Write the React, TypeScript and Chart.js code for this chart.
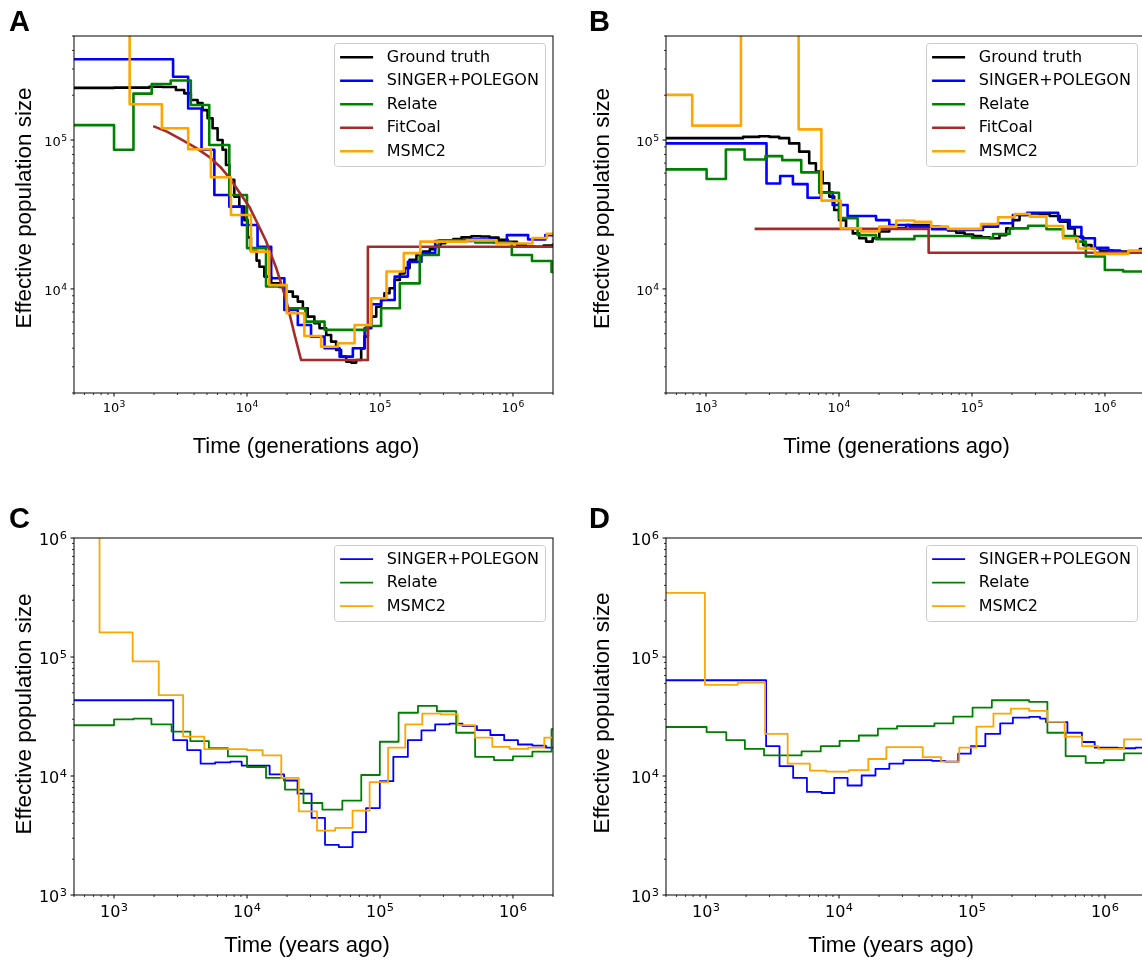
import React, { useEffect, useRef } from 'react';
import { Chart, registerables } from 'chart.js';

Chart.register(...registerables);

type Pt = [number, number];

// ---------- tick labels (base, exponent) ----------
const X_MAJOR_TICKS = [1e3, 1e4, 1e5, 1e6];
const X_TICK_LABELS: [string, string][] = [['10', '3'], ['10', '4'], ['10', '5'], ['10', '6']];
const Y_MAJOR_AB = [1e4, 1e5];
const Y_LABELS_AB: [string, string][] = [['10', '4'], ['10', '5']];
const Y_MAJOR_CD = [1e3, 1e4, 1e5, 1e6];
const Y_LABELS_CD: [string, string][] = [['10', '3'], ['10', '4'], ['10', '5'], ['10', '6']];

const LABELS_AB = ['Ground truth', 'SINGER+POLEGON', 'Relate', 'FitCoal', 'MSMC2'];
const LABELS_CD = ['SINGER+POLEGON', 'Relate', 'MSMC2'];
const Y_TITLE = 'Effective population size';
const X_TITLE_GEN = 'Time (generations ago)';
const X_TITLE_YEARS = 'Time (years ago)';

// ---------- Panel A (generations) ----------
const A_TRUTH: Pt[] = [
  [500, 2.24e5], [1000, 2.25e5], [1840, 2.28e5], [2300, 2.27e5], [2920, 2.17e5], [3370, 2.06e5],
  [3780, 1.86e5], [4250, 1.77e5], [4630, 1.59e5], [5050, 1.4e5], [5510, 1.2e5], [6010, 1.0e5],
  [6550, 8.6e4], [6950, 6.8e4], [7360, 5.4e4], [8020, 4.17e4], [8750, 3.57e4], [9550, 2.9e4],
  [1.01e4, 2.22e4], [1.07e4, 1.8e4], [1.18e4, 1.55e4], [1.24e4, 1.41e4], [1.35e4, 1.21e4],
  [1.52e4, 1.09e4], [1.75e4, 1.03e4], [1.97e4, 9.6e3], [2.21e4, 8.88e3], [2.41e4, 8.22e3],
  [2.63e4, 7.41e3], [2.86e4, 6.52e3], [3.21e4, 5.88e3], [3.51e4, 5.44e3], [3.94e4, 4.91e3],
  [4.29e4, 4.43e3], [4.68e4, 3.89e3], [5.1e4, 3.51e3], [5.57e4, 3.25e3], [6.07e4, 3.2e3],
  [6.62e4, 3.33e3], [7.22e4, 3.99e3], [7.65e4, 4.78e3], [8.11e4, 5.73e3], [8.6e4, 6.52e3],
  [9.37e4, 7.6e3], [1.02e5, 8.43e3], [1.08e5, 9.35e3], [1.18e5, 1.01e4], [1.29e5, 1.15e4],
  [1.41e5, 1.27e4], [1.53e5, 1.38e4], [1.67e5, 1.57e4], [1.88e5, 1.69e4], [2.11e5, 1.78e4],
  [2.37e5, 1.85e4], [2.6e5, 1.95e4], [2.85e5, 2.03e4], [3.1e5, 2.1e4], [3.56e5, 2.16e4],
  [4.1e5, 2.22e4], [4.87e5, 2.26e4], [5.7e5, 2.25e4], [6.68e5, 2.21e4], [7.8e5, 2.14e4],
  [9.14e5, 2.07e4], [1.07e6, 1.98e4], [1.25e6, 1.93e4], [1.45e6, 1.92e4], [1.7e6, 1.96e4],
  [2e6, 2.02e4],
];
const A_SINGER: Pt[] = [
  [500, 3.49e5], [2780, 2.66e5], [3610, 1.63e5], [4550, 8.6e4], [5680, 4.28e4], [7360, 3.57e4],
  [9160, 2.69e4], [1.2e4, 1.92e4], [1.52e4, 1.18e4], [1.91e4, 7.23e3], [2.41e4, 5.73e3],
  [3.03e4, 4.78e3], [3.83e4, 4.0e3], [4.97e4, 3.51e3], [6.25e4, 4.0e3], [7.66e4, 5.44e3],
  [8.6e4, 7.9e3], [1.02e5, 8.43e3], [1.29e5, 1.21e4], [1.62e5, 1.52e4], [2.05e5, 1.74e4],
  [2.6e5, 2.1e4], [5.0e5, 2.15e4], [7.2e5, 2.05e4], [9.0e5, 2.3e4], [1.3e6, 2.15e4],
  [1.75e6, 2.3e4], [2e6, 2.3e4],
];
const A_RELATE: Pt[] = [
  [500, 1.26e5], [1000, 8.6e4], [1400, 2.05e5], [1920, 2.38e5], [2670, 2.51e5], [3780, 1.72e5],
  [5200, 9.27e4], [7360, 4.28e4], [1.0e4, 1.88e4], [1.39e4, 1.04e4], [1.97e4, 7.41e3],
  [2.75e4, 6.03e3], [3.83e4, 5.31e3], [7.9e4, 5.64e3], [1.02e5, 7.41e3], [1.41e5, 1.09e4],
  [1.99e5, 1.69e4], [2.77e5, 2.12e4], [5.2e5, 2.05e4], [9.8e5, 1.69e4], [1.39e6, 1.54e4],
  [1.95e6, 1.3e4], [2e6, 1.3e4],
];
const A_FITCOAL: Pt[] = [
  [1970, 1.24e5], [2500, 1.14e5], [3270, 1.0e5], [4200, 8.8e4], [5200, 7.7e4], [6300, 6.6e4],
  [7360, 5.6e4], [8700, 4.5e4], [1.04e4, 3.57e4], [1.2e4, 2.75e4], [1.39e4, 2.1e4],
  [1.51e4, 1.72e4], [1.65e4, 1.4e4], [1.8e4, 1.1e4], [1.97e4, 8.4e3], [2.27e4, 5.0e3],
  [2.55e4, 3.33e3], [8.11e4, 3.33e3], [8.11e4, 1.92e4], [2e6, 1.92e4],
];
const A_MSMC: Pt[] = [
  [500, 1.5e6], [1310, 1.74e5], [2290, 1.2e5], [3610, 8.67e4], [5350, 5.62e4], [7570, 3.14e4],
  [1.07e4, 1.78e4], [1.47e4, 1.06e4], [1.99e4, 6.87e3], [2.7e4, 4.83e3], [3.61e4, 4.09e3],
  [4.82e4, 4.32e3], [6.44e4, 5.73e3], [8.6e4, 8.65e3], [1.12e5, 1.31e4], [1.51e5, 1.74e4],
  [2.01e5, 2.08e4], [4.5e5, 2.12e4], [7.5e5, 2.02e4], [1.4e6, 2.2e4], [1.8e6, 2.35e4],
  [2e6, 2.35e4],
];

// ---------- Panel B (generations) ----------
const B_TRUTH: Pt[] = [
  [500, 1.03e5], [1430, 1.03e5], [1900, 1.05e5], [2510, 1.06e5], [3000, 1.05e5], [3550, 1.03e5],
  [4220, 9.5e4], [5020, 8.36e4], [5970, 6.98e4], [6700, 6.14e4], [7530, 5.13e4], [8450, 4.17e4],
  [9200, 3.39e4], [1.0e4, 2.9e4], [1.13e4, 2.55e4], [1.27e4, 2.36e4], [1.42e4, 2.19e4],
  [1.6e4, 2.08e4], [1.79e4, 2.19e4], [2.01e4, 2.43e4], [2.39e4, 2.55e4], [3.2e4, 2.69e4],
  [4.27e4, 2.69e4], [4.9e4, 2.63e4], [5.7e4, 2.55e4], [6.6e4, 2.47e4], [7.6e4, 2.39e4],
  [8.8e4, 2.32e4], [1.02e5, 2.27e4], [1.18e5, 2.22e4], [1.36e5, 2.19e4], [1.61e5, 2.3e4],
  [1.81e5, 2.55e4], [2.03e5, 2.9e4], [2.28e5, 3.14e4], [2.64e5, 3.22e4], [3.23e5, 3.19e4],
  [3.84e5, 3.09e4], [4.57e5, 2.83e4], [5.28e5, 2.55e4], [5.93e5, 2.24e4], [6.85e5, 1.97e4],
  [7.92e5, 1.87e4], [9.16e5, 1.81e4], [1.15e6, 1.78e4], [1.45e6, 1.78e4], [1.83e6, 1.85e4],
  [2e6, 1.88e4],
];
const B_SINGER: Pt[] = [
  [500, 9.5e4], [2850, 5.11e4], [3610, 5.73e4], [4500, 5.06e4], [5800, 4.1e4], [7310, 4.45e4],
  [8960, 3.66e4], [1.16e4, 3.09e4], [1.9e4, 2.9e4], [2.39e4, 2.69e4], [3.39e4, 2.62e4],
  [5.0e4, 2.52e4], [8.0e4, 2.49e4], [1.21e5, 2.62e4], [1.57e5, 2.76e4], [2.03e5, 3.14e4],
  [2.6e5, 3.25e4], [4.45e5, 2.9e4], [5.43e5, 2.6e4], [6.65e5, 2.19e4], [8.4e5, 1.89e4],
  [1.06e6, 1.81e4], [1.3e6, 1.76e4], [2e6, 1.76e4],
];
const B_RELATE: Pt[] = [
  [500, 6.35e4], [1010, 5.47e4], [1410, 8.65e4], [1950, 7.41e4], [2800, 7.8e4], [3740, 7.33e4],
  [5200, 6.07e4], [7100, 4.43e4], [1.0e4, 2.99e4], [1.38e4, 2.3e4], [1.9e4, 2.16e4],
  [3.69e4, 2.27e4], [1.0e5, 2.2e4], [1.44e5, 2.34e4], [1.92e5, 2.55e4], [2.64e5, 2.66e4],
  [3.63e5, 2.52e4], [4.84e5, 2.27e4], [6.1e5, 2.08e4], [7.18e5, 1.65e4], [9.98e5, 1.34e4],
  [1.37e6, 1.31e4], [2e6, 1.31e4],
];
const B_FITCOAL: Pt[] = [
  [2320, 2.53e4], [4.72e4, 2.53e4], [4.72e4, 1.75e4], [2e6, 1.75e4],
];
const B_MSMC: Pt[] = [
  [500, 2.01e5], [787, 1.25e5], [1830, 5e6], [4970, 1.18e5], [7370, 3.92e4], [1.03e4, 2.55e4],
  [1.46e4, 2.43e4], [2.01e4, 2.62e4], [2.69e4, 2.88e4], [3.69e4, 2.83e4], [4.93e4, 2.62e4],
  [6.59e4, 2.53e4], [1.17e5, 2.73e4], [1.57e5, 3.03e4], [2.09e5, 3.19e4], [2.72e5, 3.06e4],
  [3.63e5, 2.65e4], [4.84e5, 2.19e4], [6.28e5, 1.87e4], [8.4e5, 1.72e4], [1.5e6, 1.81e4],
  [2e6, 1.81e4],
];

// ---------- Panel C (years) ----------
const C_SINGER: Pt[] = [
  [500, 4.33e4], [2790, 2.0e4], [3550, 1.65e4], [4480, 1.27e4], [5750, 1.3e4], [7500, 1.32e4],
  [9120, 1.22e4], [1.48e4, 1.03e4], [1.9e4, 9.17e3], [2.4e4, 7.11e3], [3.06e4, 4.44e3],
  [3.86e4, 2.64e3], [4.9e4, 2.53e3], [6.22e4, 3.38e3], [7.85e4, 5.38e3], [9.97e4, 9.04e3],
  [1.26e5, 1.45e4], [1.62e5, 2.0e4], [2.05e5, 2.42e4], [2.6e5, 2.72e4], [3.34e5, 2.75e4],
  [4.17e5, 2.63e4], [5.36e5, 2.43e4], [6.76e5, 2.21e4], [8.59e5, 2.0e4], [1.09e6, 1.84e4],
  [1.4e6, 1.8e4], [1.77e6, 1.73e4], [2e6, 1.73e4],
];
const C_RELATE: Pt[] = [
  [500, 2.67e4], [1000, 2.99e4], [1400, 3.03e4], [1910, 2.72e4], [2710, 2.36e4], [3750, 1.96e4],
  [5170, 1.71e4], [7180, 1.46e4], [1.0e4, 1.19e4], [1.39e4, 9.64e3], [1.93e4, 7.69e3],
  [2.66e4, 5.93e3], [3.69e4, 5.21e3], [5.21e4, 6.21e3], [7.23e4, 1.02e4], [9.97e4, 1.94e4],
  [1.38e5, 3.4e4], [1.93e5, 3.88e4], [2.68e5, 3.5e4], [3.74e5, 2.31e4], [5.19e5, 1.45e4],
  [7.2e5, 1.36e4], [1.0e6, 1.46e4], [1.4e6, 1.6e4], [1.95e6, 2.47e4], [2e6, 2.47e4],
];
const C_MSMC: Pt[] = [
  [500, 3e6], [778, 1.61e5], [1380, 9.18e4], [2170, 4.78e4], [3310, 2.14e4], [4770, 1.68e4],
  [1.0e4, 1.65e4], [1.31e4, 1.49e4], [1.81e4, 9.64e3], [2.45e4, 5.05e3], [3.36e4, 3.47e3],
  [4.6e4, 3.66e3], [6.22e4, 5.12e3], [8.36e4, 8.87e3], [1.15e5, 1.73e4], [1.55e5, 2.72e4],
  [2.08e5, 3.34e4], [2.86e5, 3.3e4], [3.84e5, 2.67e4], [5.19e5, 2.1e4], [6.99e5, 1.76e4],
  [9.44e5, 1.69e4], [1.3e6, 1.73e4], [1.72e6, 2.1e4], [2e6, 2.1e4],
];

// ---------- Panel D (years) ----------
const D_SINGER: Pt[] = [
  [500, 6.38e4], [2830, 1.78e4], [3570, 1.21e4], [4520, 9.64e3], [5740, 7.35e3], [7400, 7.2e3],
  [9200, 9.64e3], [1.16e4, 8.32e3], [1.48e4, 1.01e4], [1.88e4, 1.15e4], [2.39e4, 1.27e4],
  [3.05e4, 1.36e4], [5.0e4, 1.34e4], [6.3e4, 1.32e4], [7.87e4, 1.54e4], [9.8e4, 1.78e4],
  [1.26e5, 2.26e4], [1.63e5, 2.77e4], [2.03e5, 3.09e4], [2.7e5, 3.14e4], [3.25e5, 3.04e4],
  [3.6e5, 2.84e4], [5.22e5, 2.31e4], [6.71e5, 1.93e4], [8.37e5, 1.73e4], [1.25e6, 1.71e4],
  [1.7e6, 1.73e4], [2e6, 1.73e4],
];
const D_RELATE: Pt[] = [
  [500, 2.58e4], [1010, 2.34e4], [1420, 2.0e4], [1960, 1.69e4], [2730, 1.49e4], [5230, 1.61e4],
  [7290, 1.78e4], [1.01e4, 1.97e4], [1.41e4, 2.19e4], [1.96e4, 2.5e4], [2.73e4, 2.63e4],
  [5.22e4, 2.77e4], [7.24e4, 3.15e4], [1.01e5, 3.76e4], [1.41e5, 4.33e4], [2.69e5, 4.2e4],
  [3.69e5, 2.31e4], [5.06e5, 1.47e4], [7.16e5, 1.29e4], [9.82e5, 1.36e4], [1.39e6, 1.55e4],
  [2e6, 1.55e4],
];
const D_MSMC: Pt[] = [
  [500, 3.46e5], [981, 5.84e4], [1730, 6.1e4], [2780, 2.26e4], [4110, 1.27e4], [6040, 1.11e4],
  [8000, 1.09e4], [1.19e4, 1.12e4], [1.66e4, 1.39e4], [2.27e4, 1.75e4], [4.26e4, 1.44e4],
  [5.85e4, 1.32e4], [8.02e4, 1.73e4], [1.08e5, 2.6e4], [1.45e5, 3.34e4], [1.96e5, 3.68e4],
  [2.69e5, 3.52e4], [3.69e5, 2.85e4], [4.97e5, 2.14e4], [6.71e5, 1.78e4], [8.93e5, 1.69e4],
  [1.39e6, 2.03e4], [2e6, 2.03e4],
];

// ---------- styling ----------
const C_TRUTH = '#000000';
const C_BLUE = '#0000ff';
const C_GREEN = '#008000';
const C_BROWN = '#a52a2a';
const C_ORANGE = '#ffa500';

const TICK_FONT = 'DejaVu Sans';
const TITLE_FONT = 'Liberation Sans';

interface Series { label: string; color: string; data: Pt[]; stepped: boolean; }
interface PanelSpec {
  letter: string;
  x: number; y: number; w: number; h: number;
  plotLeft: number; plotTop: number; plotRight: number; plotBottom: number;
  xMin: number; xMax: number; yMin: number; yMax: number;
  yMajor: number[]; yLabels: [string, string][];
  xTitle: string;
  tickSize: number;
  lineWidth: number;
  yTitleBaseX: number; yTitleCenterY: number;
  xTitleCenterX: number; xTitleBaseY: number;
  letterBaseY: number;
  series: Series[];
}

function seriesAB(t: Pt[], s: Pt[], r: Pt[], f: Pt[], m: Pt[]): Series[] {
  return [
    { label: LABELS_AB[0], color: C_TRUTH, data: t, stepped: true },
    { label: LABELS_AB[1], color: C_BLUE, data: s, stepped: true },
    { label: LABELS_AB[2], color: C_GREEN, data: r, stepped: true },
    { label: LABELS_AB[3], color: C_BROWN, data: f, stepped: false },
    { label: LABELS_AB[4], color: C_ORANGE, data: m, stepped: true },
  ];
}
function seriesCD(s: Pt[], r: Pt[], m: Pt[]): Series[] {
  return [
    { label: LABELS_CD[0], color: C_BLUE, data: s, stepped: true },
    { label: LABELS_CD[1], color: C_GREEN, data: r, stepped: true },
    { label: LABELS_CD[2], color: C_ORANGE, data: m, stepped: true },
  ];
}

// all positions below are in each canvas' own pixel space
const PANELS: PanelSpec[] = [
  {
    letter: 'A', x: 0, y: 0, w: 570, h: 470,
    plotLeft: 74, plotTop: 36, plotRight: 553, plotBottom: 393,
    xMin: 500, xMax: 2e6, yMin: 2000, yMax: 5e5,
    yMajor: Y_MAJOR_AB, yLabels: Y_LABELS_AB,
    xTitle: X_TITLE_GEN, tickSize: 13, lineWidth: 2.6,
    yTitleBaseX: 30.8, yTitleCenterY: 208, xTitleCenterX: 306, xTitleBaseY: 453.3, letterBaseY: 30.5,
    series: seriesAB(A_TRUTH, A_SINGER, A_RELATE, A_FITCOAL, A_MSMC),
  },
  {
    letter: 'B', x: 580, y: 0, w: 582, h: 470,
    plotLeft: 86, plotTop: 36, plotRight: 565, plotBottom: 393,
    xMin: 500, xMax: 2e6, yMin: 2000, yMax: 5e5,
    yMajor: Y_MAJOR_AB, yLabels: Y_LABELS_AB,
    xTitle: X_TITLE_GEN, tickSize: 13, lineWidth: 2.6,
    yTitleBaseX: 28.8, yTitleCenterY: 208.5, xTitleCenterX: 316.5, xTitleBaseY: 453.3, letterBaseY: 30.5,
    series: seriesAB(B_TRUTH, B_SINGER, B_RELATE, B_FITCOAL, B_MSMC),
  },
  {
    letter: 'C', x: 0, y: 500, w: 570, h: 463,
    plotLeft: 74, plotTop: 38, plotRight: 553, plotBottom: 395,
    xMin: 500, xMax: 2e6, yMin: 1e3, yMax: 1e6,
    yMajor: Y_MAJOR_CD, yLabels: Y_LABELS_CD,
    xTitle: X_TITLE_YEARS, tickSize: 16, lineWidth: 1.8,
    yTitleBaseX: 30.8, yTitleCenterY: 214, xTitleCenterX: 307, xTitleBaseY: 452.3, letterBaseY: 28,
    series: seriesCD(C_SINGER, C_RELATE, C_MSMC),
  },
  {
    letter: 'D', x: 580, y: 500, w: 582, h: 463,
    plotLeft: 86, plotTop: 38, plotRight: 565, plotBottom: 395,
    xMin: 500, xMax: 2e6, yMin: 1e3, yMax: 1e6,
    yMajor: Y_MAJOR_CD, yLabels: Y_LABELS_CD,
    xTitle: X_TITLE_YEARS, tickSize: 16, lineWidth: 1.8,
    yTitleBaseX: 28.8, yTitleCenterY: 213, xTitleCenterX: 311, xTitleBaseY: 452.3, letterBaseY: 28,
    series: seriesCD(D_SINGER, D_RELATE, D_MSMC),
  },
];

function logTicks(min: number, max: number) {
  const out: { value: number; major: boolean }[] = [];
  const e0 = Math.floor(Math.log10(min));
  const e1 = Math.ceil(Math.log10(max));
  for (let e = e0; e <= e1; e++) {
    for (let k = 1; k <= 9; k++) {
      const v = k * Math.pow(10, e);
      if (v >= min * 0.9999 && v <= max * 1.0001) out.push({ value: v, major: k === 1 });
    }
  }
  return out;
}

function findLabel(majors: number[], labels: [string, string][], value: number): [string, string] | null {
  for (let i = 0; i < majors.length; i++) {
    if (Math.abs(value - majors[i]) / majors[i] < 1e-6) return labels[i];
  }
  return null;
}

// draws "base^exp" (mathtext-like); anchor: 'center' (x = centre) or 'right' (x = right edge)
function drawPow(ctx: CanvasRenderingContext2D, lab: [string, string], x: number, baseY: number, size: number, anchor: 'center' | 'right') {
  const expSize = size * 0.71;
  ctx.font = `${size}px "${TICK_FONT}"`;
  const wb = ctx.measureText(lab[0]).width;
  ctx.font = `${expSize}px "${TICK_FONT}"`;
  const we = ctx.measureText(lab[1]).width;
  const total = wb + we + size * 0.03;
  const x0 = anchor === 'center' ? x - total / 2 : x - total;
  ctx.textAlign = 'left';
  ctx.textBaseline = 'alphabetic';
  ctx.font = `${size}px "${TICK_FONT}"`;
  ctx.fillText(lab[0], x0, baseY);
  ctx.font = `${expSize}px "${TICK_FONT}"`;
  ctx.fillText(lab[1], x0 + wb + size * 0.03, baseY - size * 0.38);
}

function makeChart(canvas: HTMLCanvasElement, spec: PanelSpec) {
  const decor = {
    id: 'decor' + spec.letter,
    afterDraw(chart: any) {
      const ctx: CanvasRenderingContext2D = chart.ctx;
      const ca = chart.chartArea;
      const xs = chart.scales.x;
      const ys = chart.scales.y;
      const size = spec.tickSize;
      const expCap = 0.73 * size * 0.71;
      const raise = size * 0.38;
      ctx.save();
      ctx.strokeStyle = '#000';
      ctx.fillStyle = '#000';
      // x ticks + labels
      for (const t of xs.ticks) {
        const px = xs.getPixelForValue(t.value);
        const len = t.major ? 3.5 : 2;
        ctx.lineWidth = t.major ? 1 : 0.8;
        ctx.beginPath();
        ctx.moveTo(px, ca.bottom);
        ctx.lineTo(px, ca.bottom + len);
        ctx.stroke();
        const lab = findLabel(X_MAJOR_TICKS, X_TICK_LABELS, t.value);
        if (lab) drawPow(ctx, lab, px, ca.bottom + 7.5 + expCap + raise, size, 'center');
      }
      // y ticks + labels
      for (const t of ys.ticks) {
        const py = ys.getPixelForValue(t.value);
        const len = t.major ? 3.5 : 2;
        ctx.lineWidth = t.major ? 1 : 0.8;
        ctx.beginPath();
        ctx.moveTo(ca.left, py);
        ctx.lineTo(ca.left - len, py);
        ctx.stroke();
        const lab = findLabel(spec.yMajor, spec.yLabels, t.value);
        if (lab) drawPow(ctx, lab, ca.left - 7, py + (expCap + raise) / 2, size, 'right');
      }
      // frame
      ctx.lineWidth = 1;
      ctx.strokeRect(ca.left, ca.top, ca.right - ca.left, ca.bottom - ca.top);

      // axis titles
      ctx.fillStyle = '#000';
      ctx.textAlign = 'center';
      ctx.textBaseline = 'alphabetic';
      ctx.font = `22px "${TITLE_FONT}"`;
      ctx.fillText(spec.xTitle, spec.xTitleCenterX, spec.xTitleBaseY);
      ctx.save();
      ctx.translate(spec.yTitleBaseX, spec.yTitleCenterY);
      ctx.rotate(-Math.PI / 2);
      ctx.font = `22.4px "${TITLE_FONT}"`;
      ctx.fillText(Y_TITLE, 0, 0);
      ctx.restore();

      // legend
      const n = spec.series.length;
      const boxW = 211;
      const pitch = 23.5;
      const boxH = 13.7 + 15.3 + pitch * (n - 1);
      const bx = ca.right - 7.5 - boxW;
      const by = ca.top + 7.5;
      const r = 3;
      ctx.beginPath();
      ctx.moveTo(bx + r, by);
      ctx.lineTo(bx + boxW - r, by);
      ctx.arcTo(bx + boxW, by, bx + boxW, by + r, r);
      ctx.lineTo(bx + boxW, by + boxH - r);
      ctx.arcTo(bx + boxW, by + boxH, bx + boxW - r, by + boxH, r);
      ctx.lineTo(bx + r, by + boxH);
      ctx.arcTo(bx, by + boxH, bx, by + boxH - r, r);
      ctx.lineTo(bx, by + r);
      ctx.arcTo(bx, by, bx + r, by, r);
      ctx.closePath();
      ctx.fillStyle = 'rgba(255,255,255,0.8)';
      ctx.fill();
      ctx.strokeStyle = '#cccccc';
      ctx.lineWidth = 1;
      ctx.stroke();
      ctx.font = `16px "${TICK_FONT}"`;
      ctx.textBaseline = 'middle';
      ctx.textAlign = 'left';
      spec.series.forEach((s, i) => {
        const yy = by + 13.7 + pitch * i;
        ctx.strokeStyle = s.color;
        ctx.lineWidth = spec.lineWidth;
        ctx.beginPath();
        ctx.moveTo(bx + 5.6, yy);
        ctx.lineTo(bx + 38.6, yy);
        ctx.stroke();
        ctx.fillStyle = '#000';
        ctx.fillText(s.label, bx + 52.3, yy + 0.5);
      });

      // panel letter
      ctx.font = `bold 29px "${TITLE_FONT}"`;
      ctx.fillStyle = '#000';
      ctx.textBaseline = 'alphabetic';
      ctx.fillText(spec.letter, 9, spec.letterBaseY);
      ctx.restore();
    },
  };

  const n = spec.series.length;
  return new Chart(canvas, {
    type: 'line',
    data: {
      datasets: spec.series.map((s, i) => ({
        label: s.label,
        data: s.data.map(([x, y]) => ({ x, y })),
        borderColor: s.color,
        backgroundColor: s.color,
        borderWidth: spec.lineWidth,
        pointRadius: 0,
        pointHoverRadius: 0,
        stepped: s.stepped ? true : false,
        tension: 0,
        fill: false,
        order: n - i,
        borderJoinStyle: 'round',
        borderCapStyle: 'butt',
      })),
    },
    options: {
      animation: false,
      responsive: false,
      maintainAspectRatio: false,
      devicePixelRatio: 1,
      events: [],
      layout: {
        padding: { left: 0, top: spec.plotTop, right: spec.w - spec.plotRight, bottom: 0 },
      },
      plugins: { legend: { display: false }, tooltip: { enabled: false } },
      scales: {
        x: {
          type: 'logarithmic',
          position: 'bottom',
          min: spec.xMin,
          max: spec.xMax,
          grid: { display: false, drawTicks: false },
          border: { display: false },
          ticks: { display: false, autoSkip: false },
          title: { display: false, text: spec.xTitle },
          afterBuildTicks: (scale: any) => { scale.ticks = logTicks(spec.xMin, spec.xMax); },
          afterFit: (scale: any) => { scale.height = spec.h - spec.plotBottom; },
        },
        y: {
          type: 'logarithmic',
          position: 'left',
          min: spec.yMin,
          max: spec.yMax,
          grid: { display: false, drawTicks: false },
          border: { display: false },
          ticks: { display: false, autoSkip: false },
          title: { display: false, text: Y_TITLE },
          afterBuildTicks: (scale: any) => { scale.ticks = logTicks(spec.yMin, spec.yMax); },
          afterFit: (scale: any) => { scale.width = spec.plotLeft; },
        },
      },
    } as any,
    plugins: [decor],
  });
}

function Panel({ spec }: { spec: PanelSpec }) {
  const ref = useRef<HTMLCanvasElement>(null);
  useEffect(() => {
    if (!ref.current) return;
    const chart = makeChart(ref.current, spec);
    return () => chart.destroy();
  }, [spec]);
  return (
    <canvas
      ref={ref}
      width={spec.w}
      height={spec.h}
      style={{ position: 'absolute', left: spec.x, top: spec.y, width: spec.w, height: spec.h }}
    />
  );
}

export default function App() {
  return (
    <div
      style={{
        position: 'absolute', left: 0, top: 0, width: 1142, height: 963,
        overflow: 'hidden', background: '#ffffff',
      }}
    >
      {PANELS.map((p) => <Panel key={p.letter} spec={p} />)}
    </div>
  );
}
